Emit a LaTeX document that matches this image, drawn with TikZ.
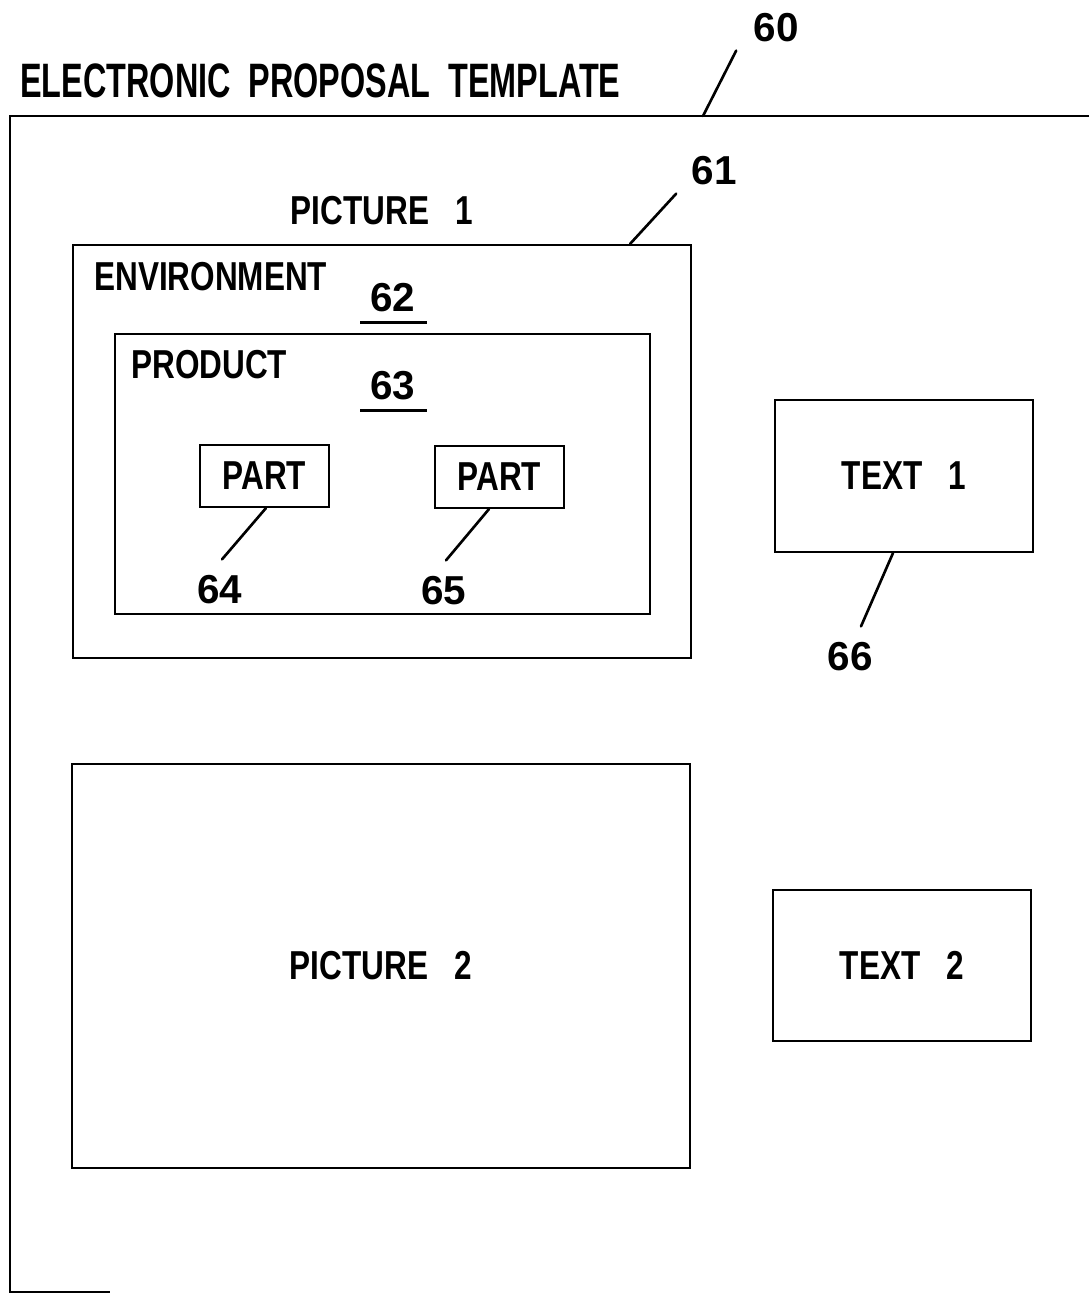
\documentclass[tikz,border=0pt]{standalone}
\usepackage{fontspec}
\setmainfont{Liberation Sans}
\usepackage{graphicx}
\usetikzlibrary{calc,positioning}
\newcommand{\cond}[1]{\scalebox{0.78}[1]{#1}}
\newcommand{\tcond}[1]{\scalebox{0.67}[1]{#1}}
\tikzset{
  frame/.style={draw=black,line width=1.6pt},
  boxnode/.style={draw=black,line width=1.2pt,inner sep=0pt,font=\fontsize{23}{26}\selectfont\bfseries},
  lbltext/.style={inner sep=0pt,font=\fontsize{23}{26}\selectfont\bfseries},
  refnum/.style={inner sep=0pt,font=\fontsize{23}{26}\selectfont\bfseries},
  leader/.style={draw=black,line width=1.5pt,line cap=round},
  uline/.style={draw=black,line width=1.6pt}
}
\begin{document}
\begin{tikzpicture}[x=0.02cm,y=-0.02cm]
  \useasboundingbox (0,0) rectangle (1089,1295);
  % template frame
  \draw[frame] (1089,116) -- (10,116) -- (10,1292) -- (110,1292);
  \coordinate (frametop) at (703,116);
  \node[lbltext,font=\fontsize{27.5}{30}\selectfont\bfseries,anchor=base west] (title) at (20,97) {\tcond{ELECTRONIC\ \ PROPOSAL\ \ TEMPLATE}};
  \node[refnum] (n60) at (776,28) {60};
  \draw[leader] ($(n60.south west)+(-17,8)$) -- (frametop);

  % picture 1
  \node[boxnode,minimum width=12.36cm,minimum height=8.26cm] (env) at (382,451.5) {};
  \node[lbltext,above=0.38cm of env] (pic1) {\cond{PICTURE\ \ \ 1}};
  \node[refnum] (n61) at (714,171) {61};
  \draw[leader] ($(n61.south west)+(-15,8)$) -- ($(env.north west)!0.9!(env.north east)$);
  \node[lbltext,anchor=base west] (envlbl) at (94,290) {\cond{ENVIRONMENT}};
  \node[refnum] (n62) at (393,298) {62};
  \draw[uline] ($(n62.south)+(-33,10)$) -- ($(n62.south)+(34,10)$);

  % product and parts
  \node[boxnode,minimum width=10.70cm,minimum height=5.60cm] (prod) at (382.5,474) {};
  \node[lbltext,anchor=base west] (prodlbl) at (131,378) {\cond{PRODUCT}};
  \node[refnum] (n63) at (393,386) {63};
  \draw[uline] ($(n63.south)+(-33,10)$) -- ($(n63.south)+(34,10)$);
  \node[boxnode,minimum width=2.58cm,minimum height=1.24cm] (part1) at (264.5,476) {\cond{PART}};
  \node[boxnode,minimum width=2.58cm,minimum height=1.24cm] (part2) at (499.5,477) {\cond{PART}};
  \node[refnum] (n64) at (220,590) {64};
  \node[refnum] (n65) at (444,591) {65};
  \draw[leader] ($(part1.south)+(1.5,0)$) -- ($(n64.north)+(2,-16)$);
  \draw[leader] ($(part2.south)+(-10.5,0)$) -- ($(n65.north)+(2,-16)$);

  % text 1
  \node[boxnode,minimum width=5.16cm,minimum height=3.04cm] (text1) at (904,476) {\cond{TEXT\ \ \ 1}};
  \node[refnum] (n66) at (850,657) {66};
  \draw[leader] ($(text1.south)+(-11,0)$) -- ($(n66.north)+(11,-16)$);

  % picture 2 and text 2
  \node[boxnode,minimum width=12.36cm,minimum height=8.08cm] (pic2) at (381,966) {\cond{PICTURE\ \ \ 2}};
  \node[boxnode,minimum width=5.16cm,minimum height=3.02cm] (text2) at (902,965.5) {\cond{TEXT\ \ \ 2}};
\end{tikzpicture}
\end{document}
